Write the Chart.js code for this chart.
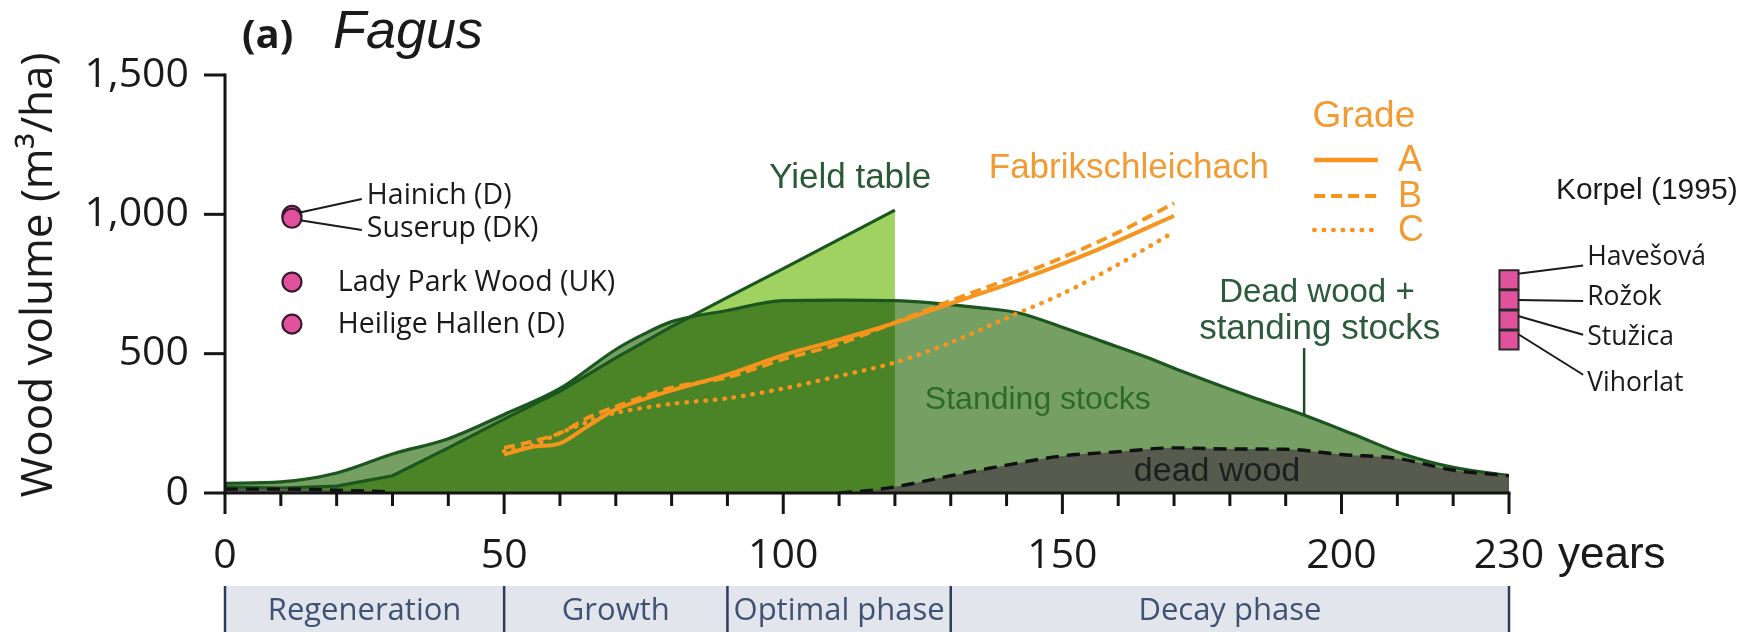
<!DOCTYPE html>
<html>
<head>
<meta charset="utf-8">
<script src="https://cdn.jsdelivr.net/npm/chart.js@4.4.0/dist/chart.umd.min.js"></script>
<style>
  html, body { margin: 0; padding: 0; background: #ffffff; }
  #c { display: block; }
</style>
</head>
<body>
<canvas id="c" width="1742" height="632"></canvas>
<script>
// ---- Stand age (years) and wood volume (m³/ha) ----
const standingYears  = [0, 10, 20, 30, 40, 50, 60, 70, 75, 80, 90, 100, 110, 120, 126, 135, 142, 150, 157, 165, 172, 180, 186, 193, 202, 211, 220, 230];
const standingVolume = [35, 40, 72, 140, 195, 282, 375, 515, 570, 615, 655, 690, 692, 690, 683, 665, 647, 595, 545, 488, 432, 372, 330, 282, 212, 140, 92, 62];

const yieldYears  = [0, 10, 20, 30, 40, 50, 60, 70, 80, 90, 100, 110, 120];
const yieldVolume = [22, 18, 25, 62, 162, 265, 365, 485, 597, 702, 805, 910, 1015];

const deadYears  = [0, 10, 20, 30, 70, 110, 115, 120, 130, 140, 150, 160, 170, 180, 190, 200, 210, 220, 230];
const deadVolume = [14, 14, 10, 4, null, 0, 8, 22, 62, 100, 133, 148, 162, 158, 157, 138, 124, 82, 62];

// Fabrikschleichach, grades A-C
const gradeYears = [50, 55, 60, 65, 70, 80, 90, 100, 110, 120, 130, 140, 150, 160, 170];
const gradeA = [138, 165, 178, 240, 300, 368, 425, 495, 550, 610, 680, 748, 822, 905, 995];
const gradeB = [162, 185, 215, 270, 310, 378, 415, 480, 535, 612, 690, 765, 845, 935, 1040];
const gradeC = [150, 170, 215, 255, 288, 320, 340, 375, 420, 468, 540, 628, 715, 820, 937];

// Old-growth reference sites
const siteNames  = ['Hainich (D)', 'Suserup (DK)', 'Lady Park Wood (UK)', 'Heilige Hallen (D)'];
const siteAge    = [12, 12, 12, 12];
const siteVolume = [996, 986, 757, 606];

// Korpel (1995) reserves
const korpelNames  = ['Havešová', 'Rožok', 'Stužica', 'Vihorlat'];
const korpelAge    = [230, 230, 230, 230];
const korpelVolume = [765, 693, 621, 549];

// Axis ticks and development phases
const yTicks = [0, 500, 1000, 1500];
const xLabelTicks = [0, 50, 100, 150, 200, 230];
const xMinorStep = 10;
const phaseNames  = ['Regeneration', 'Growth', 'Optimal phase', 'Decay phase'];
const phaseBounds = [0, 50, 90, 130, 230];

// ---- Styling ----
const COL = {
  standing: '#76a063',
  yieldFill: '#a0d262',
  darkGreen: '#1c561f',
  dead: '#565b4d',
  orange: '#f7941d',
  orangeText: '#f39a32',
  pink: '#e0529c',
  pinkEdge: '#3a1830',
  ink: '#1e1e1e',
  phaseBg: '#e3e5ec',
  phaseLine: '#2c3c5e',
  phaseText: '#3f5273'
};
const SANS = '"Open Sans", "Noto Sans", sans-serif';
const ARIAL = '"Liberation Sans", Arial, sans-serif';

const pts = (xs, ys) => xs.map((x, i) => ({ x: x, y: ys[i] }));

// Text placements, in chart (years, m³/ha) coordinates
const notes = {
  yieldLabel: { x: 112.0, y: 1130 },
  fabrik: { x: 161.9, y: 1166 },
  grade: { x: 204.0, y: 1349 },
  legendRows: [1195, 1066, 944],
  legendFrom: 195.1, legendTo: 206.5, legendLetter: 210.1,
  korpelTitle: { x: 238.4, y: 1084 },
  korpelTextX: 244.0, korpelTextY: [845, 700, 557, 392],
  siteTextX: [25.4, 25.4, 20.2, 20.2], siteTextY: [1066, 947, 754, 603],
  deadPlus: { x: 195.6, y: 718 }, standingPlus: { x: 196.1, y: 588 },
  pointerX: 193.3, pointerTop: 520,
  standingLabel: { x: 145.6, y: 334 },
  deadLabel: { x: 177.7, y: 75 }
};

function interp(xs, ys, x) {
  for (let i = 1; i < xs.length; i++) {
    if (x <= xs[i]) {
      const t = (x - xs[i - 1]) / (xs[i] - xs[i - 1]);
      return ys[i - 1] + t * (ys[i] - ys[i - 1]);
    }
  }
  return ys[ys.length - 1];
}

function txt(c, s, x, y, font, color, align, base) {
  c.font = font; c.fillStyle = color;
  c.textAlign = align || 'left'; c.textBaseline = base || 'middle';
  c.fillText(s, x, y);
}
function seg(c, x1, y1, x2, y2) {
  c.beginPath(); c.moveTo(x1, y1); c.lineTo(x2, y2); c.stroke();
}

const decor = {
  id: 'decor',
  beforeDatasetsDraw(chart) { chart.ctx.globalCompositeOperation = 'source-over'; },
  // lets a dataset ask for a blend mode for the one drawn after it
  afterDatasetDraw(chart, args) {
    const ds = chart.data.datasets[args.index];
    chart.ctx.globalCompositeOperation = ds.nextComposite || 'source-over';
  },
  afterDatasetsDraw(chart) {
    const c = chart.ctx;
    c.save();
    c.globalCompositeOperation = 'source-over';
    const sx = chart.scales.x, sy = chart.scales.y;
    const X = v => sx.getPixelForValue(v), Y = v => sy.getPixelForValue(v);
    const x0 = X(0), x1 = X(230), y0 = Y(0);

    // axes
    c.strokeStyle = '#141414'; c.lineWidth = 3; c.lineCap = 'butt';
    seg(c, x0, y0 + 1.5, x0, Y(1500) - 1.5);
    seg(c, x0 - 1.5, y0, x1 + 1.5, y0);
    yTicks.forEach(v => {
      seg(c, x0 - 21, Y(v), x0, Y(v));
      txt(c, v.toLocaleString('en-US'), x0 - 36, Y(v), '41px ' + SANS, '#1a1a1a', 'right', 'middle');
    });
    for (let v = 0; v <= 230; v += xMinorStep) {
      const major = xLabelTicks.includes(v);
      seg(c, X(v), y0, X(v), y0 + (major ? 21 : 13));
    }
    xLabelTicks.forEach(v => {
      txt(c, String(v), X(v), y0 + 75, '41px ' + SANS, '#1a1a1a', 'center', 'alphabetic');
    });
    txt(c, 'years', x1 + 49, y0 + 75, '44px ' + ARIAL, '#1a1a1a', 'left', 'alphabetic');

    // axis title
    c.save();
    c.translate(39, 275);
    c.rotate(-Math.PI / 2);
    txt(c, 'Wood volume (m³/ha)', 0, 0, '44px ' + SANS, '#1a1a1a', 'center', 'middle');
    c.restore();

    // panel title
    txt(c, '(a)', 242, 48, 'bold 40px ' + SANS, '#1a1a1a', 'left', 'alphabetic');
    txt(c, 'Fagus', 333, 48, 'italic 54px ' + ARIAL, '#1a1a1a', 'left', 'alphabetic');

    // development phases
    const barTop = y0 + 93;
    c.fillStyle = COL.phaseBg;
    c.fillRect(x0, barTop, x1 - x0, chart.height - barTop);
    c.strokeStyle = COL.phaseLine; c.lineWidth = 2.5;
    phaseBounds.forEach(b => seg(c, X(b), barTop, X(b), chart.height));
    phaseNames.forEach((n, i) => {
      const mid = (phaseBounds[i] + phaseBounds[i + 1]) / 2;
      txt(c, n, X(mid), barTop + 25, '31px ' + SANS, COL.phaseText, 'center', 'middle');
    });

    // curve labels
    txt(c, 'Yield table', X(notes.yieldLabel.x), Y(notes.yieldLabel.y), '35px ' + ARIAL, '#2a5a35', 'center');
    txt(c, 'Fabrikschleichach', X(notes.fabrik.x), Y(notes.fabrik.y), '35px ' + ARIAL, COL.orangeText, 'center');
    txt(c, 'Standing stocks', X(notes.standingLabel.x), Y(notes.standingLabel.y), '32px ' + ARIAL, '#2c6a2c', 'center');
    txt(c, 'dead wood', X(notes.deadLabel.x), Y(notes.deadLabel.y), '34px ' + ARIAL, COL.ink, 'center');
    txt(c, 'Dead wood +', X(notes.deadPlus.x), Y(notes.deadPlus.y), '33px ' + ARIAL, '#2b5a3c', 'center');
    txt(c, 'standing stocks', X(notes.standingPlus.x), Y(notes.standingPlus.y), '35px ' + ARIAL, '#2b5a3c', 'center');
    c.strokeStyle = '#1f4a2a'; c.lineWidth = 2.5;
    seg(c, X(notes.pointerX), Y(notes.pointerTop), X(notes.pointerX),
        Y(interp(standingYears, standingVolume, notes.pointerX)));

    // grade legend
    txt(c, 'Grade', X(notes.grade.x), Y(notes.grade.y), '37px ' + ARIAL, COL.orangeText, 'center');
    const legStyles = [
      { dash: [], w: 4.5, cap: 'butt' },
      { dash: [11, 6], w: 4, cap: 'butt' },
      { dash: [0.5, 9], w: 4.5, cap: 'round' }
    ];
    ['A', 'B', 'C'].forEach((g, i) => {
      const yy = Y(notes.legendRows[i]);
      c.save();
      c.strokeStyle = COL.orange; c.lineWidth = legStyles[i].w; c.lineCap = legStyles[i].cap;
      c.setLineDash(legStyles[i].dash);
      seg(c, X(notes.legendFrom), yy, X(notes.legendTo), yy);
      c.restore();
      txt(c, g, X(notes.legendLetter), yy + 1, '36px ' + ARIAL, COL.orangeText, 'left');
    });

    // reference sites (left)
    c.strokeStyle = '#1a1a1a'; c.lineWidth = 2;
    siteNames.forEach((n, i) => {
      const tx = X(notes.siteTextX[i]), ty = Y(notes.siteTextY[i]);
      txt(c, n, tx, ty, '28.5px ' + SANS, '#1a1a1a', 'left');
    });
    seg(c, X(siteAge[0]) + 8, Y(siteVolume[0]) - 3, X(notes.siteTextX[0]) - 5, Y(notes.siteTextY[0]) + 3);
    seg(c, X(siteAge[1]) + 8, Y(siteVolume[1]) + 2, X(notes.siteTextX[1]) - 5, Y(notes.siteTextY[1]) + 1);

    // Korpel (1995)
    txt(c, 'Korpel (1995)', X(notes.korpelTitle.x), Y(notes.korpelTitle.y), '30px ' + ARIAL, '#1a1a1a', 'left');
    const tie = [[-6, 8], [0, 3], [-4, -3], [-6, -9]];
    korpelNames.forEach((n, i) => {
      const tx = X(notes.korpelTextX), ty = Y(notes.korpelTextY[i]);
      txt(c, n, tx, ty, '26.5px ' + SANS, '#1a1a1a', 'left');
      seg(c, X(korpelAge[i]) + 9, Y(korpelVolume[i]) + tie[i][0], tx - 4, ty + tie[i][1]);
    });
    c.restore();
  }
};

const datasets = [
  { label: 'Standing stocks area', data: pts(standingYears, standingVolume), fill: 'origin',
    backgroundColor: COL.standing, borderColor: 'rgba(0,0,0,0)', borderWidth: 0, pointRadius: 0,
    cubicInterpolationMode: 'monotone', order: 12, nextComposite: 'multiply' },
  { label: 'Yield table area', data: pts(yieldYears, yieldVolume), fill: 'origin',
    backgroundColor: COL.yieldFill, borderColor: 'rgba(0,0,0,0)', borderWidth: 0, pointRadius: 0,
    tension: 0, order: 11 },
  { label: 'Dead wood + standing stocks', data: pts(standingYears, standingVolume), fill: false,
    borderColor: COL.darkGreen, borderWidth: 3.2, pointRadius: 0, cubicInterpolationMode: 'monotone', order: 10 },
  { label: 'Yield table', data: pts(yieldYears, yieldVolume), fill: false,
    borderColor: COL.darkGreen, borderWidth: 3.2, pointRadius: 0, tension: 0, order: 9 },
  { label: 'Dead wood', data: pts(deadYears, deadVolume), fill: 'origin',
    backgroundColor: COL.dead, borderColor: '#111111', borderWidth: 3.4, borderDash: [13, 8],
    pointRadius: 0, cubicInterpolationMode: 'monotone', spanGaps: false, order: 8 },
  { label: 'Grade C', data: pts(gradeYears, gradeC), fill: false, borderColor: COL.orange,
    borderWidth: 4.5, borderDash: [0.5, 9], borderCapStyle: 'round', pointRadius: 0, tension: 0.3, order: 7 },
  { label: 'Grade B', data: pts(gradeYears, gradeB), fill: false, borderColor: COL.orange,
    borderWidth: 3.8, borderDash: [11, 6], pointRadius: 0, tension: 0.3, order: 6 },
  { label: 'Grade A', data: pts(gradeYears, gradeA), fill: false, borderColor: COL.orange,
    borderWidth: 4, pointRadius: 0, tension: 0.3, order: 5 },
  { label: 'Old-growth sites', data: pts(siteAge, siteVolume), showLine: false,
    pointRadius: 9.5, pointBackgroundColor: COL.pink, pointBorderColor: COL.pinkEdge, pointBorderWidth: 2.2,
    clip: false, order: 2 },
  { label: 'Korpel (1995)', data: pts(korpelAge, korpelVolume), showLine: false, pointStyle: 'rect',
    pointRadius: 13.5, pointBackgroundColor: COL.pink, pointBorderColor: '#2a2a2a', pointBorderWidth: 2,
    clip: false, order: 1 }
];

new Chart(document.getElementById('c'), {
  type: 'line',
  data: { datasets: datasets },
  options: {
    responsive: false,
    devicePixelRatio: 1,
    animation: false,
    layout: { padding: { left: 225, right: 233, top: 75, bottom: 139 } },
    scales: {
      x: { type: 'linear', min: 0, max: 230, display: false },
      y: { type: 'linear', min: 0, max: 1500, display: false }
    },
    plugins: { legend: { display: false }, tooltip: { enabled: false } },
    elements: { point: { hoverRadius: 0 } }
  },
  plugins: [decor]
});
</script>
</body>
</html>
